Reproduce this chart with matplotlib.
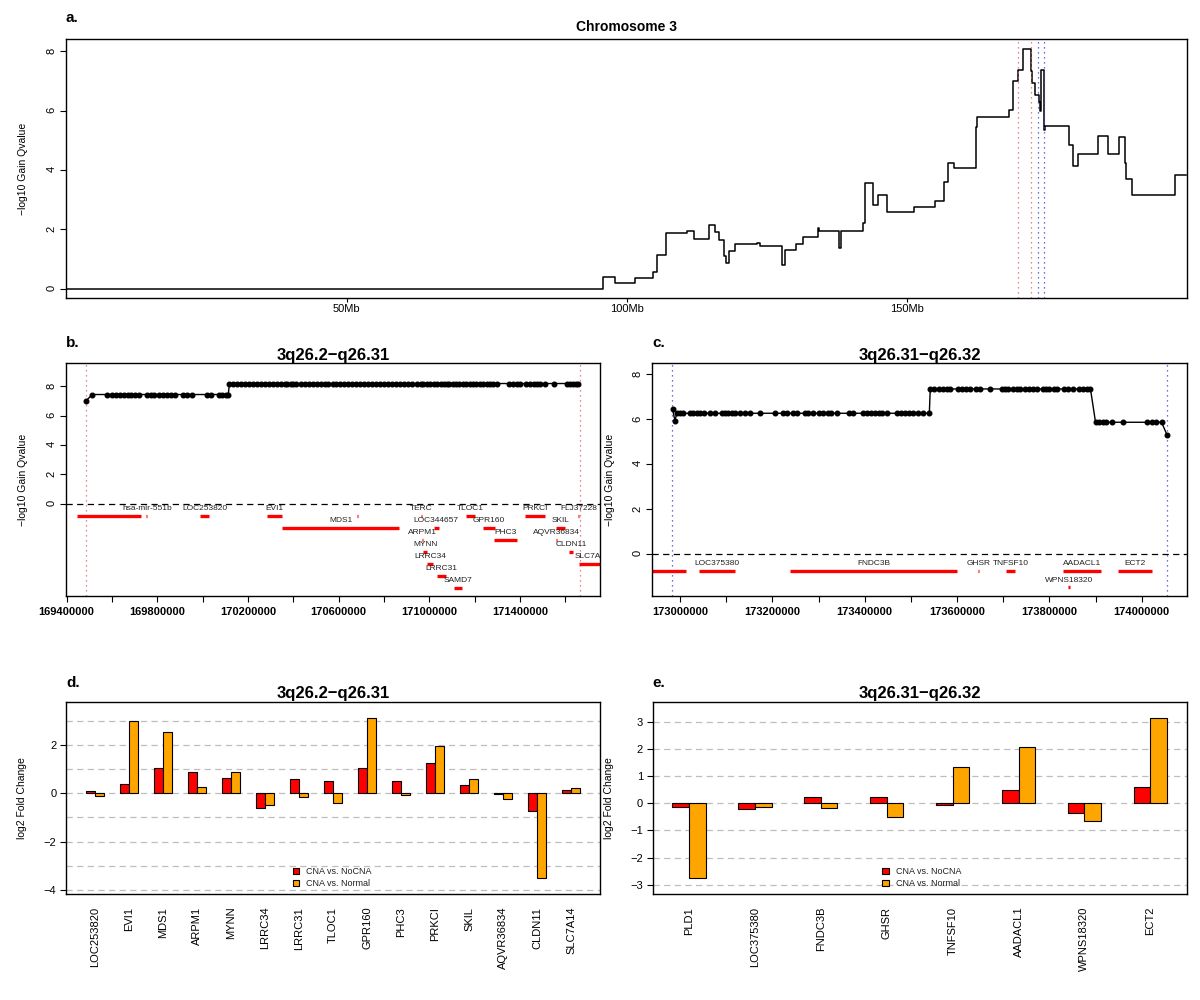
import numpy as np
import matplotlib.pyplot as plt
from matplotlib.patches import Patch
from matplotlib.transforms import offset_copy

plt.rcParams['font.family'] = ['Liberation Sans', 'DejaVu Sans']
plt.rcParams['axes.linewidth'] = 1.0

# ---------------- data ----------------
# a. whole chromosome 3, step profile (Mb, -log10 q)
chr_pos = [0, 95.8, 97.9, 101.4, 104.6, 105.4, 107.0, 110.7, 112.0, 114.6, 115.8, 116.4,
           117.3, 117.7, 118.3, 119.3, 123.2, 123.8, 127.8, 128.2, 130.2, 131.5, 134.1,
           134.4, 137.8, 138.3, 142.1, 142.5, 144.0, 144.9, 146.4, 151.25, 155.1, 156.7,
           157.3, 158.4, 162.4, 162.6, 168.2, 169.0, 169.9, 170.7, 172.2, 172.4, 172.9,
           173.5, 173.75, 174.0, 174.5, 174.6, 179.0, 179.6, 180.6, 184.2, 185.9, 187.8,
           188.9, 189.1, 190.1, 197.9, 199.9]
chr_q = [0, 0.41, 0.19, 0.37, 0.55, 1.13, 1.87, 1.96, 1.67, 2.15, 1.90, 1.63,
         1.09, 0.86, 1.29, 1.50, 1.55, 1.45, 0.81, 1.31, 1.50, 1.76, 2.05,
         1.94, 1.37, 1.94, 2.21, 3.58, 2.83, 3.15, 2.60, 2.77, 2.95, 3.60,
         4.25, 4.07, 5.47, 5.78, 6.03, 7.01, 7.37, 8.08, 7.35, 6.93, 6.53,
         6.31, 6.00, 7.37, 5.35, 5.50, 4.85, 4.14, 4.56, 5.16, 4.56, 5.13,
         4.23, 3.70, 3.15, 3.85, 3.85]
a_red_lines = [169.9, 172.2]
a_blue_lines = [173.4, 174.5]

# b. 3q26.2-q26.31 probes (Mb)
b_pos_first = [169.484]
b_q_first = [7.0]
b_pos_low = [169.513, 169.577, 169.601, 169.618, 169.635, 169.652, 169.669, 169.685, 169.703,
             169.720, 169.756, 169.771, 169.787, 169.806, 169.824, 169.841, 169.860, 169.878,
             169.915, 169.932, 169.952, 170.018, 170.035, 170.071, 170.087, 170.103, 170.113]
b_q_low = 7.45
b_pos_high = [170.118, 170.135, 170.152, 170.170, 170.188, 170.205, 170.222, 170.240, 170.258,
              170.275, 170.292, 170.310, 170.328, 170.345, 170.362, 170.371, 170.388, 170.400,
              170.412, 170.432, 170.450, 170.468, 170.485, 170.503, 170.520, 170.538, 170.555,
              170.573, 170.590, 170.608, 170.625, 170.643, 170.660, 170.678, 170.695, 170.712,
              170.730, 170.748, 170.765, 170.783, 170.800, 170.818, 170.835, 170.853, 170.872,
              170.890, 170.908, 170.922, 170.947, 170.962, 170.974, 170.990, 171.005, 171.020,
              171.035, 171.050, 171.065, 171.077, 171.088, 171.103, 171.118, 171.133, 171.148,
              171.163, 171.178, 171.193, 171.208, 171.223, 171.238, 171.253, 171.268, 171.283,
              171.298, 171.350, 171.367, 171.385, 171.402, 171.428, 171.445, 171.460, 171.475,
              171.490, 171.510, 171.548, 171.608, 171.620, 171.633, 171.646, 171.658]
b_q_high = 8.2
b_bounds = [169.484, 171.665]

b_gene_names = ['', 'hsa-mir-551b', 'LOC253820', 'EVI1', 'MDS1', '', 'TERC', 'LOC344657',
                'ARPM1', 'MYNN', 'LRRC34', 'LRRC31', 'SAMD7', 'TLOC1', 'GPR160', 'PHC3',
                'PRKCI', 'FLJ37228', 'SKIL', 'AQVR36834', 'CLDN11', 'SLC7A14']
b_gene_start = [169.447, 169.752, 169.990, 170.283, 170.349, 170.682, 170.964, 171.021,
                170.967, 170.971, 170.991, 171.035, 171.109, 171.162, 171.236, 171.286,
                171.420, 171.658, 171.557, 171.559, 171.615, 171.662]
b_gene_end = [169.727, 169.755, 170.029, 170.352, 170.868, 170.685, 170.967, 171.041,
              170.970, 170.991, 171.015, 171.074, 171.143, 171.202, 171.290, 171.386,
              171.510, 171.661, 171.600, 171.562, 171.636, 171.780]
b_gene_row = [1, 1, 1, 1, 2, 1, 1, 2, 3, 4, 5, 6, 7, 1, 2, 3, 1, 1, 2, 3, 4, 5]

# c. 3q26.31-q26.32 probes (Mb)
c_pos_start = [172.984, 172.989]
c_q_start = [6.44, 5.94]
c_pos_mid = [172.993, 172.999, 173.006, 173.022, 173.029, 173.036, 173.043, 173.051, 173.064,
             173.076, 173.090, 173.098, 173.105, 173.112, 173.119, 173.130, 173.141, 173.152,
             173.173, 173.206, 173.224, 173.231, 173.245, 173.253, 173.271, 173.278, 173.287,
             173.302, 173.310, 173.320, 173.328, 173.341, 173.367, 173.375, 173.396, 173.404,
             173.413, 173.422, 173.430, 173.437, 173.448, 173.469, 173.478, 173.487, 173.497,
             173.505, 173.516, 173.527, 173.540]
c_q_mid = 6.27
c_pos_peak = [173.542, 173.550, 173.560, 173.569, 173.578, 173.585, 173.603, 173.610, 173.620,
              173.629, 173.640, 173.649, 173.671, 173.697, 173.704, 173.711, 173.721, 173.729,
              173.737, 173.747, 173.755, 173.764, 173.774, 173.786, 173.793, 173.800, 173.809,
              173.817, 173.832, 173.841, 173.851, 173.865, 173.872, 173.881, 173.889]
c_q_peak = 7.35
c_pos_tail = [173.900, 173.908, 173.916, 173.923, 173.935, 173.960, 174.012, 174.022, 174.032,
              174.043]
c_q_tail = 5.87
c_pos_end = [174.055]
c_q_end = [5.3]
c_bounds = [172.983, 174.055]

c_gene_names = ['PLD1', 'LOC375380', 'FNDC3B', 'GHSR', 'TNFSF10', 'AADACL1', 'ECT2', 'WPNS18320']
c_gene_start = [172.80, 173.042, 173.238, 173.645, 173.705, 173.829, 173.949, 173.841]
c_gene_end = [173.013, 173.118, 173.601, 173.648, 173.726, 173.911, 174.022, 173.844]
c_gene_row = [1, 1, 1, 1, 1, 1, 1, 2]

# d. / e. log2 fold change
d_genes = ['LOC253820', 'EVI1', 'MDS1', 'ARPM1', 'MYNN', 'LRRC34', 'LRRC31', 'TLOC1',
           'GPR160', 'PHC3', 'PRKCI', 'SKIL', 'AQVR36834', 'CLDN11', 'SLC7A14']
d_nocna = [0.08, 0.40, 1.06, 0.90, 0.63, -0.59, 0.59, 0.52, 1.05, 0.50, 1.26, 0.34, -0.03, -0.73, 0.14]
d_normal = [-0.12, 3.00, 2.52, 0.26, 0.90, -0.47, -0.14, -0.41, 3.13, -0.08, 1.96, 0.61, -0.25, -3.52, 0.23]

e_genes = ['PLD1', 'LOC375380', 'FNDC3B', 'GHSR', 'TNFSF10', 'AADACL1', 'WPNS18320', 'ECT2']
e_nocna = [-0.12, -0.22, 0.25, 0.22, -0.05, 0.48, -0.34, 0.59]
e_normal = [-2.76, -0.12, -0.17, -0.52, 1.33, 2.09, -0.65, 3.15]

# ---------------- helpers ----------------
RED = '#FF0000'
ORANGE = '#FFA500'
TXT = '#222222'


def panel_letter(ax, letter, y):
    ax.text(0, y, letter, transform=ax.transAxes, fontsize=11, fontweight='bold',
            ha='left', va='center')


def region_panel(ax, pos, q, genes, starts, ends, rows, row_step, bounds, bound_col,
                 ylim, xticks, xlabels, title, letter):
    ax.plot(np.array(pos) * 1e6, q, color='black', lw=1.0, marker='o', ms=3.3, zorder=3)
    for b in bounds:
        ax.axvline(b * 1e6, color=bound_col, ls=(0, (1, 3)), lw=0.9, zorder=1)
    ax.axhline(0, color='black', ls=(0, (5, 3.5)), lw=0.9)
    trans = offset_copy(ax.transData, fig=ax.figure, y=5, units='points')
    for name, s, e, r in zip(genes, starts, ends, rows):
        y = -r * row_step
        ax.plot([s * 1e6, e * 1e6], [y, y], color=RED, lw=2.4, solid_capstyle='butt', zorder=2)
        if name:
            ax.text((s + e) / 2 * 1e6, y, name, transform=trans, ha='center', va='center',
                    fontsize=6, color=TXT, clip_on=True)
    ax.set_ylim(*ylim)
    ax.set_yticks([0, 2, 4, 6, 8])
    ax.tick_params(axis='y', labelrotation=90, labelsize=8, length=4, pad=3)
    ax.set_xticks(xticks)
    ax.set_xticklabels(xlabels, fontweight='bold', fontsize=8)
    ax.tick_params(axis='x', length=4, pad=4)
    ax.set_ylabel('\u2212log10 Gain Qvalue', fontsize=7.5, labelpad=13)
    ax.set_title(title, fontsize=12, fontweight='bold', pad=2)
    panel_letter(ax, letter, 1.086)


def bar_panel(ax, genes, v1, v2, space, ylim, yticks, grid, title, letter, leg_x):
    n = len(genes)
    left = np.arange(n) * (2 + space)
    for g in grid:
        ax.axhline(g, color='#BEBEBE', ls=(0, (5, 3.5)), lw=0.9, zorder=1)
    ax.bar(left, v1, width=1, align='edge', color=RED, edgecolor='black', lw=0.8, zorder=3)
    ax.bar(left + 1, v2, width=1, align='edge', color=ORANGE, edgecolor='black', lw=0.8, zorder=3)
    span = left[-1] + 2
    ax.set_xlim(-0.04 * span, span * 1.04)
    ax.set_ylim(*ylim)
    ax.set_yticks(yticks)
    ax.tick_params(axis='y', labelsize=8, length=4, pad=3)
    ax.set_xticks(left + 1)
    ax.set_xticklabels(genes, rotation=90, fontsize=8)
    ax.tick_params(axis='x', length=0, pad=9)
    ax.set_ylabel('log2 Fold Change', fontsize=7.5, labelpad=12)
    ax.set_title(title, fontsize=12, fontweight='bold', pad=3)
    panel_letter(ax, letter, 1.097)
    handles = [Patch(facecolor=RED, edgecolor='black', lw=0.8),
               Patch(facecolor=ORANGE, edgecolor='black', lw=0.8)]
    ax.legend(handles, ['CNA vs. NoCNA', 'CNA vs. Normal'], loc='center left',
              bbox_to_anchor=(leg_x, 0.086), frameon=False, fontsize=6.5,
              handlelength=0.7, handleheight=0.7, handletextpad=0.8,
              labelspacing=0.35, borderpad=0, borderaxespad=0, labelcolor=TXT)


# ---------------- figure ----------------
fig = plt.figure(figsize=(12, 10), dpi=100)

# a.
ax_a = fig.add_axes([0.055, 0.7023, 0.9339, 0.2584])
ax_a.plot(chr_pos, chr_q, drawstyle='steps-post', color='black', lw=1.1)
for b in a_red_lines:
    ax_a.axvline(b, color='#E06060', ls=(0, (1, 3)), lw=0.9)
for b in a_blue_lines:
    ax_a.axvline(b, color='#4040D0', ls=(0, (1, 3)), lw=0.9)
ax_a.set_xlim(-0.1, 199.95)
ax_a.set_ylim(-0.3, 8.41)
ax_a.set_xticks([50, 100, 150])
ax_a.set_xticklabels(['50Mb', '100Mb', '150Mb'], fontsize=8)
ax_a.set_yticks([0, 2, 4, 6, 8])
ax_a.tick_params(axis='y', labelrotation=90, labelsize=8, length=4, pad=3)
ax_a.tick_params(axis='x', length=3, pad=1.5)
ax_a.set_ylabel('\u2212log10 Gain Qvalue', fontsize=7.5, labelpad=13)
ax_a.set_title('Chromosome 3', fontsize=10, fontweight='bold', pad=6)
panel_letter(ax_a, 'a.', 1.081)

# b.
ax_b = fig.add_axes([0.055, 0.404, 0.445, 0.2327])
b_pos = b_pos_first + b_pos_low + b_pos_high
b_q = b_q_first + [b_q_low] * len(b_pos_low) + [b_q_high] * len(b_pos_high)
b_ticks = np.arange(169400000, 171600001, 200000)
b_labels = [f'{t:d}' if i % 2 == 0 else '' for i, t in enumerate(b_ticks)]
region_panel(ax_b, b_pos, b_q, b_gene_names, b_gene_start, b_gene_end, b_gene_row, 0.82,
             b_bounds, '#E06060', (-6.3, 9.58), b_ticks, b_labels, '3q26.2\u2212q26.31', 'b.')
ax_b.set_xlim(169397000, 171753000)

# c.
ax_c = fig.add_axes([0.5436, 0.404, 0.4453, 0.2327])
c_pos = c_pos_start + c_pos_mid + c_pos_peak + c_pos_tail + c_pos_end
c_q = (c_q_start + [c_q_mid] * len(c_pos_mid) + [c_q_peak] * len(c_pos_peak)
       + [c_q_tail] * len(c_pos_tail) + c_q_end)
c_ticks = np.arange(173000000, 174000001, 100000)
c_labels = [f'{t:d}' if i % 2 == 0 else '' for i, t in enumerate(c_ticks)]
region_panel(ax_c, c_pos, c_q, c_gene_names, c_gene_start, c_gene_end, c_gene_row, 0.735,
             c_bounds, '#4040D0', (-1.85, 8.49), c_ticks, c_labels, '3q26.31\u2212q26.32', 'c.')
ax_c.set_xlim(172940000, 174097400)

# d. / e.
ax_d = fig.add_axes([0.055, 0.1057, 0.445, 0.1926])
bar_panel(ax_d, d_genes, d_nocna, d_normal, 1.79, (-4.18, 3.79), [-4, -2, 0, 2],
          range(-4, 4), '3q26.2\u2212q26.31', 'd.', 0.425)

ax_e = fig.add_axes([0.5439, 0.1057, 0.445, 0.1926])
bar_panel(ax_e, e_genes, e_nocna, e_normal, 1.96, (-3.35, 3.74), list(range(-3, 4)),
          range(-3, 4), '3q26.31\u2212q26.32', 'e.', 0.43)

fig.savefig('out.png', dpi=100)
